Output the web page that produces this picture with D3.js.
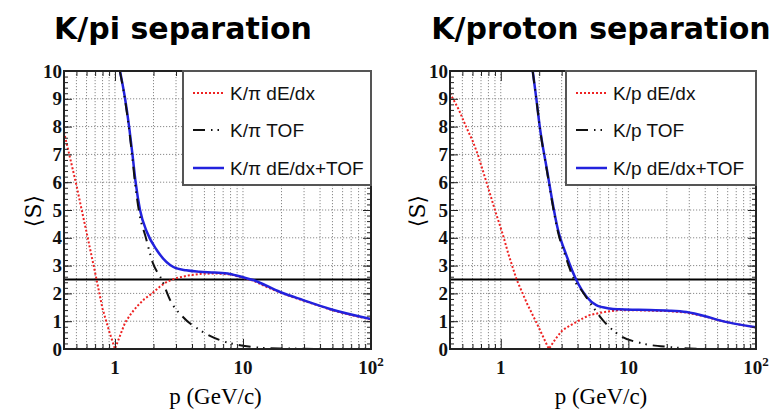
<!DOCTYPE html>
<html>
<head>
<meta charset="utf-8">
<script src="https://cdn.jsdelivr.net/npm/d3@7"></script>
<style>
  body { margin: 0; background: #fff; }
</style>
</head>
<body>
<svg id="chart" width="770" height="412"></svg>
<script>
// K/pi panel curves (momentum p in GeV/c, mean separation S)
const kpiDedxP = [0.4, 0.45, 0.5, 0.55, 0.6, 0.7, 0.8, 0.9, 1.0, 1.1, 1.2, 1.35, 1.5, 1.7, 1.95, 2.25, 2.55, 3.0, 3.8, 4.6, 6, 8, 10, 12, 15, 19.5, 24, 29.5, 38, 47.8, 70, 100];
const kpiDedxS = [7.8, 6.8, 5.9, 5.0, 4.2, 2.75, 1.45, 0.65, 0.0, 0.5, 0.95, 1.3, 1.55, 1.8, 2.0, 2.25, 2.42, 2.55, 2.65, 2.7, 2.72, 2.68, 2.56, 2.46, 2.25, 2.03, 1.88, 1.74, 1.58, 1.42, 1.22, 1.06];
const kpiTofP = [1.095, 1.2, 1.29, 1.37, 1.45, 1.57, 1.72, 1.98, 2.33, 2.7, 3.4, 4.6, 6.6, 10, 14.4, 20, 30, 40];
const kpiTofS = [9.97, 8.95, 7.9, 6.85, 5.8, 4.75, 4.1, 3.09, 2.48, 1.76, 1.15, 0.68, 0.32, 0.12, 0.04, 0.02, 0.01, 0.0];
const kpiBothP = [1.095, 1.2, 1.29, 1.37, 1.45, 1.57, 1.78, 2.12, 2.86, 3.6, 4.6, 6, 7.9, 10, 12, 19.5, 29.5, 47.8, 100];
const kpiBothS = [10, 9, 8, 7, 6, 5, 4.2, 3.56, 2.95, 2.83, 2.78, 2.75, 2.7, 2.58, 2.48, 2.05, 1.76, 1.44, 1.08];

// K/proton panel curves
const kpDedxP = [0.4, 0.47, 0.54, 0.6, 0.66, 0.72, 0.79, 0.9, 1.04, 1.15, 1.33, 1.6, 1.95, 2.38, 2.7, 3.05, 3.5, 3.9, 4.4, 4.96, 6.3, 8.5, 12, 21, 28.5, 40, 51, 70, 100];
const kpDedxS = [9.2, 8.6, 7.95, 7.5, 7.0, 6.45, 5.85, 5.0, 4.1, 3.4, 2.5, 1.65, 0.85, 0.0, 0.38, 0.68, 0.85, 0.97, 1.1, 1.22, 1.32, 1.4, 1.39, 1.36, 1.31, 1.17, 1.03, 0.9, 0.77];
const kpTofP = [1.78, 1.9, 2.02, 2.29, 2.81, 3.26, 3.9, 4.15, 4.96, 6.3, 8.5, 12.9, 21, 30, 40];
const kpTofS = [9.98, 8.98, 7.98, 6.45, 4.2, 3.25, 2.35, 2.2, 1.69, 1.04, 0.5, 0.2, 0.07, 0.02, 0.0];
const kpBothP = [1.78, 1.9, 2.02, 2.29, 2.81, 3.26, 3.91, 4.7, 5.6, 7.1, 8.5, 12, 21, 28.5, 40, 51, 100];
const kpBothS = [10, 9, 8, 6.5, 4.28, 3.38, 2.48, 1.88, 1.58, 1.46, 1.43, 1.41, 1.38, 1.33, 1.18, 1.04, 0.78];

const titles = ['K/pi separation', 'K/proton separation'];
const kpiLabels = ['K/\u03c0 dE/dx', 'K/\u03c0 TOF', 'K/\u03c0 dE/dx+TOF'];
const kpLabels = ['K/p dE/dx', 'K/p TOF', 'K/p dE/dx+TOF'];
const yMajor = [0, 1, 2, 3, 4, 5, 6, 7, 8, 9, 10];
const xMajor = [1, 10, 100];
const xMinor = [0.4, 0.5, 0.6, 0.7, 0.8, 0.9, 2, 3, 4, 5, 6, 7, 8, 9, 20, 30, 40, 50, 60, 70, 80, 90];
const threshold = 2.5;

const zip = (ps, ss) => ps.map((p, i) => ({ p: p, s: ss[i] }));

// red dE/dx has a sharp minimum, so it is drawn point to point
const styles = [
  { color: '#ee2222', width: 2, dash: '2,2', curve: d3.curveLinear },
  { color: '#111111', width: 2, dash: '12,6,1.5,5,1.5,6', curve: d3.curveMonotoneX },
  { color: '#2222dd', width: 2.5, dash: null, curve: d3.curveMonotoneX }
];

const panels = [
  { left: 64, right: 371, legendX: 183, labelX: 33, cx: 183, title: titles[0], labels: kpiLabels,
    curves: [zip(kpiDedxP, kpiDedxS), zip(kpiTofP, kpiTofS), zip(kpiBothP, kpiBothS)] },
  { left: 450, right: 756, legendX: 566, labelX: 417, cx: 601, title: titles[1], labels: kpLabels,
    curves: [zip(kpDedxP, kpDedxS), zip(kpTofP, kpTofS), zip(kpBothP, kpBothS)] }
];

const plotTop = 71, plotBottom = 349;
const svg = d3.select('#chart');
const defs = svg.append('defs');

panels.forEach((pn, idx) => {
  const x = d3.scaleLog().domain([0.4, 100]).range([pn.left, pn.right]);
  const y = d3.scaleLinear().domain([0, 10]).range([plotBottom, plotTop]);
  const g = svg.append('g');

  defs.append('clipPath').attr('id', 'clip' + idx)
    .append('rect')
    .attr('x', pn.left).attr('y', plotTop)
    .attr('width', pn.right - pn.left).attr('height', plotBottom - plotTop);

  // title
  svg.append('text')
    .attr('x', pn.cx).attr('y', 39)
    .attr('text-anchor', 'middle')
    .style('font-family', '"DejaVu Sans", Verdana, sans-serif')
    .style('font-weight', 'bold')
    .style('font-size', '30px')
    .text(pn.title);

  // grid
  const xGrid = xMinor.concat(xMajor).filter(d => d > 0.4 && d < 100);
  g.selectAll('.gx').data(xGrid).join('line')
    .attr('x1', d => x(d)).attr('x2', d => x(d))
    .attr('y1', plotTop).attr('y2', plotBottom)
    .attr('stroke', '#8a8a8a').attr('stroke-width', 1)
    .attr('stroke-dasharray', '1.2,1.8');
  g.selectAll('.gy').data(yMajor.filter(d => d > 0 && d < 10)).join('line')
    .attr('x1', pn.left).attr('x2', pn.right)
    .attr('y1', d => y(d)).attr('y2', d => y(d))
    .attr('stroke', '#8a8a8a').attr('stroke-width', 1)
    .attr('stroke-dasharray', '1.2,1.8');

  // threshold line
  g.append('line')
    .attr('x1', pn.left).attr('x2', pn.right)
    .attr('y1', y(threshold)).attr('y2', y(threshold))
    .attr('stroke', '#000').attr('stroke-width', 2);

  // curves
  const cg = g.append('g').attr('clip-path', 'url(#clip' + idx + ')');
  [0, 2, 1].forEach(k => {
    const line = d3.line().x(d => x(d.p)).y(d => y(d.s)).curve(styles[k].curve);
    cg.append('path')
      .datum(pn.curves[k])
      .attr('d', line)
      .attr('fill', 'none')
      .attr('stroke', styles[k].color)
      .attr('stroke-width', styles[k].width)
      .attr('stroke-dasharray', styles[k].dash);
  });

  // axes (ticks inside on all four sides)
  const yMinor = d3.range(0, 10.01, 0.2).map(d => +d.toFixed(1));
  const axes = [
    d3.axisBottom(x).tickValues(xMinor).tickSize(-5).tickFormat(''),
    d3.axisBottom(x).tickValues(xMajor).tickSize(-10).tickFormat(''),
    d3.axisTop(x).tickValues(xMinor).tickSize(-5).tickFormat(''),
    d3.axisTop(x).tickValues(xMajor).tickSize(-10).tickFormat(''),
    d3.axisLeft(y).tickValues(yMinor).tickSize(-4).tickFormat(''),
    d3.axisRight(y).tickValues(yMinor).tickSize(-4).tickFormat(''),
    d3.axisRight(y).tickValues(yMajor).tickSize(-8).tickFormat('')
  ];
  const shifts = ['translate(0,' + plotBottom + ')', 'translate(0,' + plotBottom + ')',
    'translate(0,' + plotTop + ')', 'translate(0,' + plotTop + ')',
    'translate(' + pn.left + ',0)', 'translate(' + pn.right + ',0)', 'translate(' + pn.right + ',0)'];
  axes.forEach((a, i) => {
    const ag = g.append('g').attr('transform', shifts[i]).call(a);
    ag.select('.domain').remove();
    ag.selectAll('line').attr('stroke', '#222');
  });

  const yAxis = g.append('g')
    .attr('transform', 'translate(' + pn.left + ',0)')
    .call(d3.axisLeft(y).tickValues(yMajor).tickSize(-8).tickPadding(2));
  yAxis.select('.domain').remove();
  yAxis.selectAll('line').attr('stroke', '#222');
  yAxis.selectAll('text')
    .attr('fill', '#111')
    .style('font-family', '"Liberation Serif", "Times New Roman", serif')
    .style('font-weight', 'bold')
    .style('font-size', '19px');

  // x tick labels
  const xl = g.selectAll('.xl').data(xMajor).join('text')
    .attr('x', d => x(d)).attr('y', 374)
    .attr('text-anchor', 'middle')
    .attr('fill', '#111')
    .style('font-family', '"Liberation Serif", "Times New Roman", serif')
    .style('font-weight', 'bold')
    .style('font-size', '19px');
  xl.append('tspan').text(d => d === 100 ? '10' : String(d));
  xl.filter(d => d === 100).append('tspan')
    .attr('dy', -8).style('font-size', '13px').text('2');

  // frame
  g.append('rect')
    .attr('x', pn.left).attr('y', plotTop)
    .attr('width', pn.right - pn.left).attr('height', plotBottom - plotTop)
    .attr('fill', 'none').attr('stroke', '#222').attr('stroke-width', 2);

  // axis titles
  svg.append('text')
    .attr('x', (pn.left + pn.right) / 2 - 2).attr('y', 404)
    .attr('text-anchor', 'middle')
    .style('font-family', '"Liberation Serif", "Times New Roman", serif')
    .style('font-size', '23px')
    .text('p (GeV/c)');
  svg.append('text')
    .attr('transform', 'translate(' + (pn.labelX + 8) + ',211) rotate(-90)')
    .attr('text-anchor', 'middle')
    .style('font-family', '"DejaVu Serif", "Liberation Serif", serif')
    .style('font-size', '22px')
    .text('\u27e8S\u27e9');

  // legend
  const lg = g.append('g');
  lg.append('rect')
    .attr('x', pn.legendX).attr('y', plotTop)
    .attr('width', pn.right - pn.legendX).attr('height', 114)
    .attr('fill', '#fff').attr('stroke', '#555').attr('stroke-width', 2);
  const rows = [93, 130, 168];
  pn.labels.forEach((lab, k) => {
    lg.append('line')
      .attr('x1', pn.legendX + 10).attr('x2', pn.legendX + 41)
      .attr('y1', rows[k]).attr('y2', rows[k])
      .attr('stroke', styles[k].color)
      .attr('stroke-width', styles[k].width)
      .attr('stroke-dasharray', styles[k].dash);
    lg.append('text')
      .attr('x', pn.legendX + 47).attr('y', rows[k] + 7)
      .style('font-family', '"Liberation Sans", Arial, sans-serif')
      .style('font-size', '19px')
      .attr('fill', '#111')
      .text(lab);
  });
});
</script>
</body>
</html>
